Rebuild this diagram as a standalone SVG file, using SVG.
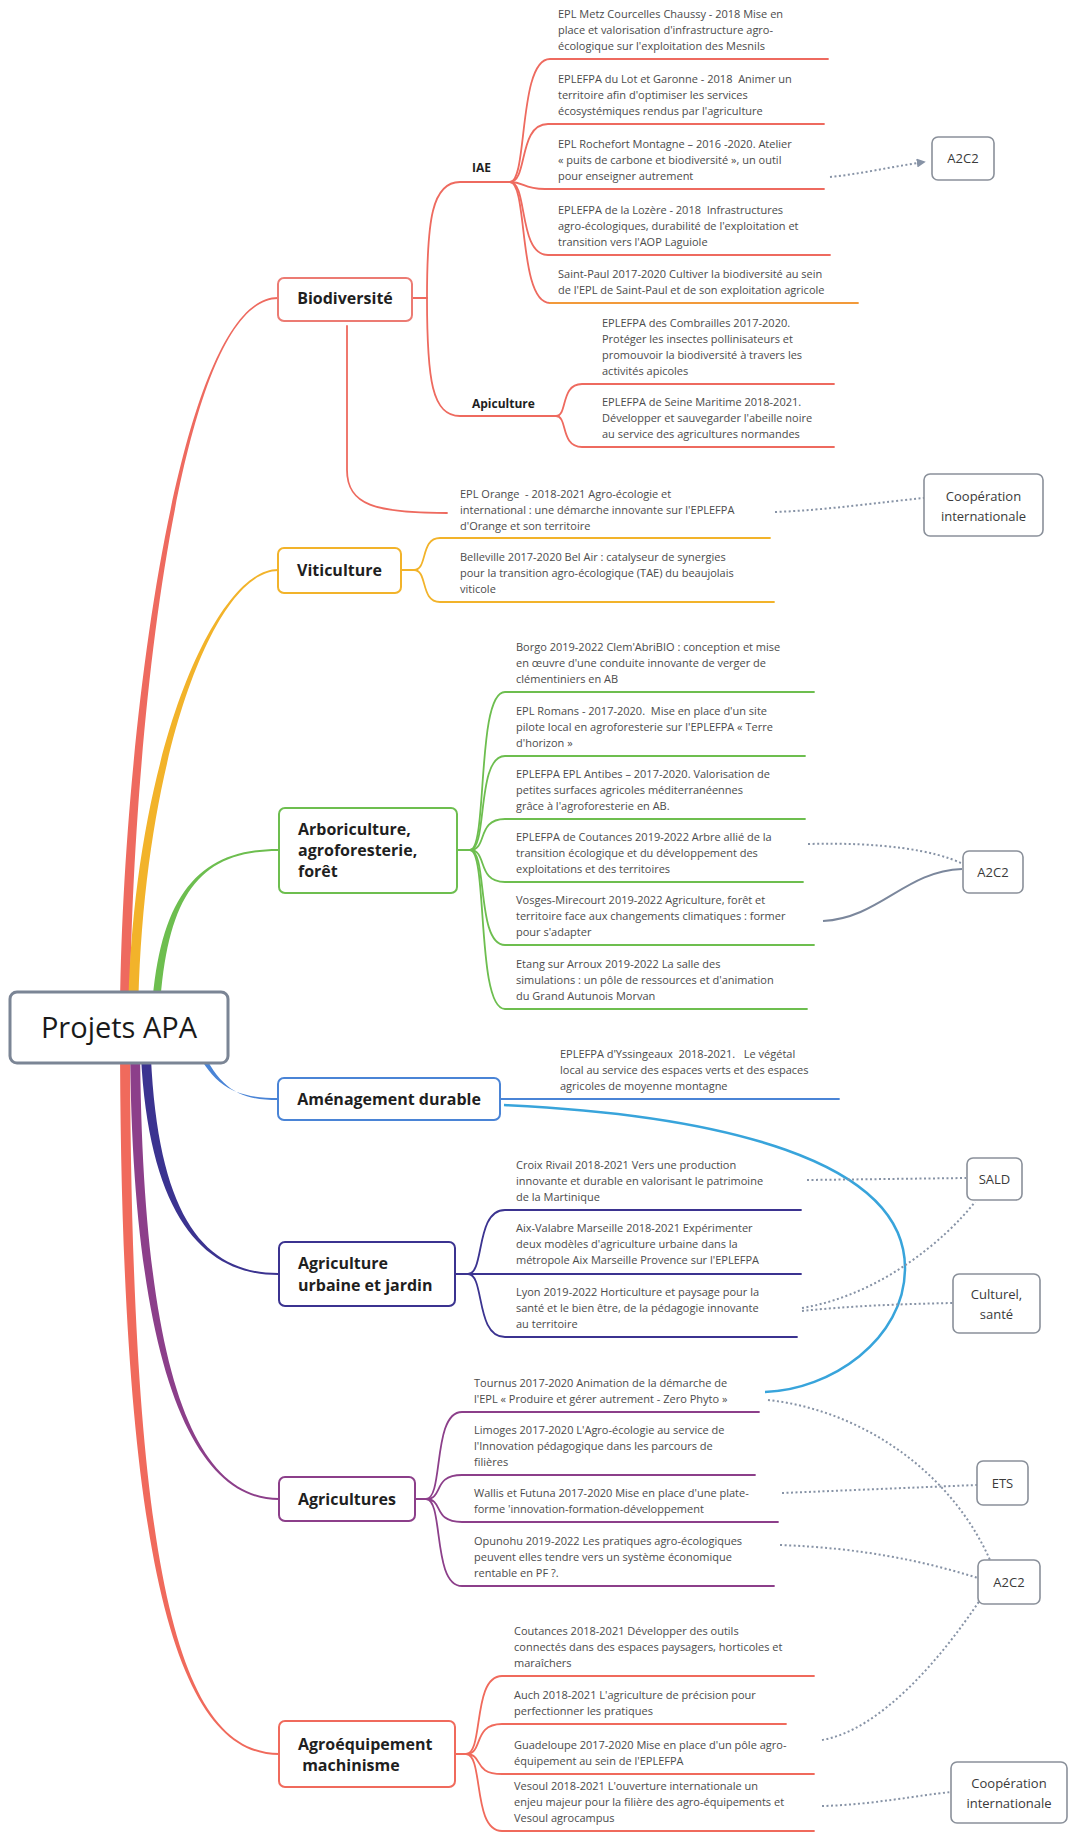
<svg xmlns="http://www.w3.org/2000/svg" width="1070" height="1834" viewBox="0 0 1070 1834">
<defs>
  <marker id="arrow" viewBox="0 0 10 10" refX="8" refY="5" markerWidth="4.5" markerHeight="4.5" orient="auto">
    <path d="M0,0 L10,5 L0,10 z" fill="#8793A6"/>
  </marker>
</defs>
<style>
  text { font-family: "Open Sans", "Noto Sans", "Liberation Sans", sans-serif; }
  .item { font-size: 11px; fill: #4b4b4b; }
  .head { font-size: 16px; font-weight: 700; fill: #1f1f1f; }
  .sub { font-size: 12px; font-weight: 700; fill: #1f1f1f; }
  .tag { font-size: 13px; fill: #3a3a3a; }
  .root { font-size: 29px; fill: #1a1a1a; }
  .box { fill: #ffffff; stroke-width: 2; }
  .tagbox { fill: #ffffff; stroke: #8a909a; stroke-width: 1.6; }
  .ln { fill: none; stroke-width: 1.8; stroke-linecap: round; }
  .bio { stroke: #EE6A5F; }
  .viti { stroke: #F2B32A; }
  .arbo { stroke: #6DBE4F; }
  .amen { stroke: #4A84D6; }
  .urb { stroke: #3B3390; }
  .agri { stroke: #8C3F8A; }
  .agro { stroke: #F06A5C; }
  .rel { fill: none; stroke: #8793A6; stroke-width: 2; stroke-dasharray: 2 2.5; }
</style>

<g id="connectors">
  <!-- tapered main branches from the root -->
  <path fill="#EE6A5F" d="M120,1027 C120,760 175,297 278,297 L278,299 C175,299 130,760 130,1027 Z"/>
  <path fill="#F2B32A" d="M128,1027 C130,760 215,569 278,569 L278,571 C215,571 140,760 138,1027 Z"/>
  <path fill="#6DBE4F" d="M151,1027 C156,900 195,849 278,849 L278,851 C195,851 164,900 159,1027 Z"/>
  <path fill="#4A84D6" d="M192,1040 C212,1090 240,1098 278,1098 L278,1100 C240,1100 218,1090 198,1040 Z"/>
  <path fill="#3B3390" d="M140,1027 C143,1210 200,1275 278,1275 L278,1273 C200,1273 153,1210 150,1027 Z"/>
  <path fill="#8C3F8A" d="M130,1027 C130,1360 190,1500 279,1500 L279,1498 C190,1498 140,1360 140,1027 Z"/>
  <path fill="#F06A5C" d="M120,1027 C120,1560 175,1755 279,1755 L279,1753 C175,1753 130,1560 130,1027 Z"/>

  <!-- Biodiversité sub-branches -->
  <path class="ln bio" d="M412,298 L427,298"/>
  <path class="ln bio" d="M427,298 C427,220 432,182 460,182 L510,182"/>
  <path class="ln bio" d="M427,298 C427,380 432,416 460,416 L556,416"/>
  <path class="ln bio" d="M347,326 L347,470 C347,505 375,513 447,513"/>
  <path class="ln bio" d="M510,182 C528,182 518,59 550,59 L828,59"/>
  <path class="ln bio" d="M510,182 C528,182 518,124 548,124 L824,124"/>
  <path class="ln bio" d="M510,182 C525,182 522,189 545,189 L824,189"/>
  <path class="ln bio" d="M510,182 C528,182 518,255 548,255 L830,255"/>
  <path class="ln bio" d="M510,182 C528,182 518,303 550,303"/>
  <path class="ln" stroke="#F29A3A" d="M550,303 L858,303"/>
  <path class="ln bio" d="M556,416 C568,416 560,384 582,384 L834,384"/>
  <path class="ln bio" d="M556,416 C568,416 560,447 582,447 L834,447"/>

  <!-- Viticulture -->
  <path class="ln viti" d="M401,570 L414,570"/>
  <path class="ln viti" d="M414,570 C428,570 420,538 440,538 L770,538"/>
  <path class="ln viti" d="M414,570 C428,570 420,602 440,602 L774,602"/>

  <!-- Arboriculture -->
  <path class="ln arbo" d="M457,850 L470,850"/>
  <path class="ln arbo" d="M470,850 C488,850 476,692 505,692 L814,692"/>
  <path class="ln arbo" d="M470,850 C488,850 476,756 505,756 L805,756"/>
  <path class="ln arbo" d="M470,850 C488,850 476,819 505,819 L805,819"/>
  <path class="ln arbo" d="M470,850 C488,850 476,882 505,882 L803,882"/>
  <path class="ln arbo" d="M470,850 C488,850 476,945 505,945 L814,945"/>
  <path class="ln arbo" d="M470,850 C488,850 476,1009 505,1009 L807,1009"/>

  <!-- Aménagement durable -->
  <path class="ln amen" d="M500,1099 L839,1099"/>

  <!-- Agriculture urbaine et jardin -->
  <path class="ln urb" d="M455,1274 L468,1274"/>
  <path class="ln urb" d="M468,1274 C485,1274 475,1210 505,1210 L801,1210"/>
  <path class="ln urb" d="M468,1274 L801,1274"/>
  <path class="ln urb" d="M468,1274 C485,1274 475,1337 505,1337 L797,1337"/>

  <!-- Agricultures -->
  <path class="ln agri" d="M415,1499 L426,1499"/>
  <path class="ln agri" d="M426,1499 C444,1499 432,1412 462,1412 L759,1412"/>
  <path class="ln agri" d="M426,1499 C444,1499 432,1475 462,1475 L755,1475"/>
  <path class="ln agri" d="M426,1499 C444,1499 432,1522 462,1522 L778,1522"/>
  <path class="ln agri" d="M426,1499 C444,1499 432,1586 462,1586 L774,1586"/>

  <!-- Agroéquipement machinisme -->
  <path class="ln agro" d="M455,1754 L466,1754"/>
  <path class="ln agro" d="M466,1754 C484,1754 472,1676 502,1676 L814,1676"/>
  <path class="ln agro" d="M466,1754 C484,1754 472,1724 502,1724 L786,1724"/>
  <path class="ln agro" d="M466,1754 C484,1754 472,1774 502,1774 L814,1774"/>
  <path class="ln agro" d="M466,1754 C484,1754 472,1831 502,1831 L814,1831"/>

  <!-- relationships -->
  <path fill="none" stroke="#38A4DB" stroke-width="2.5" d="M504,1105 C720,1115 905,1160 905,1268 C905,1340 830,1390 765,1392"/>
  <path fill="none" stroke="#7B879C" stroke-width="2" d="M823,921 C880,918 905,871 962,869"/>
  <path class="rel" marker-end="url(#arrow)" d="M830,177 C860,174 890,167 924,162"/>
  <path class="rel" d="M775,512 C830,510 880,502 924,498"/>
  <path class="rel" d="M808,844 C880,842 935,850 963,864"/>
  <path class="rel" d="M807,1180 L966,1178"/>
  <path class="rel" d="M802,1308 C880,1295 945,1240 975,1202"/>
  <path class="rel" d="M802,1311 C850,1306 900,1304 953,1303"/>
  <path class="rel" d="M768,1400 C860,1410 950,1470 990,1560"/>
  <path class="rel" d="M782,1493 L977,1485"/>
  <path class="rel" d="M780,1545 C860,1548 920,1560 978,1578"/>
  <path class="rel" d="M822,1740 C880,1730 940,1660 980,1600"/>
  <path class="rel" d="M822,1806 C870,1805 920,1795 951,1792"/>
</g>

<g id="root">
  <rect x="10" y="992" width="218" height="71" rx="7" fill="#ffffff" stroke="#7B8595" stroke-width="3"/>
  <text class="root" x="119" y="1038" text-anchor="middle">Projets APA</text>
</g>

<g id="biodiversite">
  <rect class="box" x="278" y="278" width="134" height="43" rx="6" stroke="#EC7B73"/>
  <text class="head" x="345" y="304" text-anchor="middle">Biodiversité</text>
</g>
<g id="iae"><text class="sub" x="472" y="172">IAE</text></g>
<g id="apiculture"><text class="sub" x="472" y="408">Apiculture</text></g>
<g id="metz"><text class="item"><tspan x="558" y="18">EPL Metz Courcelles Chaussy - 2018 Mise en</tspan><tspan x="558" y="34">place et valorisation d'infrastructure agro-</tspan><tspan x="558" y="50">écologique sur l'exploitation des Mesnils</tspan></text></g>
<g id="lot-garonne"><text class="item" xml:space="preserve"><tspan x="558" y="83">EPLEFPA du Lot et Garonne - 2018  Animer un</tspan><tspan x="558" y="99">territoire afin d'optimiser les services</tspan><tspan x="558" y="115">écosystémiques rendus par l'agriculture</tspan></text></g>
<g id="rochefort"><text class="item"><tspan x="558" y="148">EPL Rochefort Montagne – 2016 -2020. Atelier</tspan><tspan x="558" y="164">« puits de carbone et biodiversité », un outil</tspan><tspan x="558" y="180">pour enseigner autrement</tspan></text></g>
<g id="lozere"><text class="item" xml:space="preserve"><tspan x="558" y="214">EPLEFPA de la Lozère - 2018  Infrastructures</tspan><tspan x="558" y="230">agro-écologiques, durabilité de l'exploitation et</tspan><tspan x="558" y="246">transition vers l'AOP Laguiole</tspan></text></g>
<g id="saint-paul"><text class="item"><tspan x="558" y="278">Saint-Paul 2017-2020 Cultiver la biodiversité au sein</tspan><tspan x="558" y="294">de l'EPL de Saint-Paul et de son exploitation agricole</tspan></text></g>
<g id="combrailles"><text class="item"><tspan x="602" y="327">EPLEFPA des Combrailles 2017-2020.</tspan><tspan x="602" y="343">Protéger les insectes pollinisateurs et</tspan><tspan x="602" y="359">promouvoir la biodiversité à travers les</tspan><tspan x="602" y="375">activités apicoles</tspan></text></g>
<g id="seine-maritime"><text class="item"><tspan x="602" y="406">EPLEFPA de Seine Maritime 2018-2021.</tspan><tspan x="602" y="422">Développer et sauvegarder l'abeille noire</tspan><tspan x="602" y="438">au service des agricultures normandes</tspan></text></g>
<g id="orange"><text class="item" xml:space="preserve"><tspan x="460" y="498">EPL Orange  - 2018-2021 Agro-écologie et</tspan><tspan x="460" y="514">international : une démarche innovante sur l'EPLEFPA</tspan><tspan x="460" y="530">d'Orange et son territoire</tspan></text></g>

<g id="viticulture">
  <rect class="box" x="278" y="548" width="123" height="45" rx="6" stroke="#F2B32A"/>
  <text class="head" x="339.5" y="576" text-anchor="middle">Viticulture</text>
</g>
<g id="belleville"><text class="item"><tspan x="460" y="561">Belleville 2017-2020 Bel Air : catalyseur de synergies</tspan><tspan x="460" y="577">pour la transition agro-écologique (TAE) du beaujolais</tspan><tspan x="460" y="593">viticole</tspan></text></g>

<g id="arboriculture">
  <rect class="box" x="279" y="808" width="178" height="85" rx="6" stroke="#6DBE4F"/>
  <text class="head"><tspan x="298" y="835">Arboriculture,</tspan><tspan x="298" y="856">agroforesterie,</tspan><tspan x="298" y="877">forêt</tspan></text>
</g>
<g id="borgo"><text class="item"><tspan x="516" y="651">Borgo 2019-2022 Clem'AbriBIO : conception et mise</tspan><tspan x="516" y="667">en œuvre d'une conduite innovante de verger de</tspan><tspan x="516" y="683">clémentiniers en AB</tspan></text></g>
<g id="romans"><text class="item" xml:space="preserve"><tspan x="516" y="715">EPL Romans - 2017-2020.  Mise en place d'un site</tspan><tspan x="516" y="731">pilote local en agroforesterie sur l'EPLEFPA « Terre</tspan><tspan x="516" y="747">d'horizon »</tspan></text></g>
<g id="antibes"><text class="item"><tspan x="516" y="778">EPLEFPA EPL Antibes – 2017-2020. Valorisation de</tspan><tspan x="516" y="794">petites surfaces agricoles méditerranéennes</tspan><tspan x="516" y="810">grâce à l'agroforesterie en AB.</tspan></text></g>
<g id="coutances-arbre"><text class="item"><tspan x="516" y="841">EPLEFPA de Coutances 2019-2022 Arbre allié de la</tspan><tspan x="516" y="857">transition écologique et du développement des</tspan><tspan x="516" y="873">exploitations et des territoires</tspan></text></g>
<g id="vosges"><text class="item"><tspan x="516" y="904">Vosges-Mirecourt 2019-2022 Agriculture, forêt et</tspan><tspan x="516" y="920">territoire face aux changements climatiques : former</tspan><tspan x="516" y="936">pour s'adapter</tspan></text></g>
<g id="etang"><text class="item"><tspan x="516" y="968">Etang sur Arroux 2019-2022 La salle des</tspan><tspan x="516" y="984">simulations : un pôle de ressources et d'animation</tspan><tspan x="516" y="1000">du Grand Autunois Morvan</tspan></text></g>

<g id="amenagement">
  <rect class="box" x="278" y="1078" width="222" height="42" rx="6" stroke="#4A84D6"/>
  <text class="head" x="389" y="1105" text-anchor="middle">Aménagement durable</text>
</g>
<g id="yssingeaux"><text class="item" xml:space="preserve"><tspan x="560" y="1058">EPLEFPA d'Yssingeaux  2018-2021.   Le végétal</tspan><tspan x="560" y="1074">local au service des espaces verts et des espaces</tspan><tspan x="560" y="1090">agricoles de moyenne montagne</tspan></text></g>

<g id="agriculture-urbaine">
  <rect class="box" x="279" y="1242" width="176" height="64" rx="6" stroke="#3B3390"/>
  <text class="head"><tspan x="298" y="1269">Agriculture</tspan><tspan x="298" y="1291">urbaine et jardin</tspan></text>
</g>
<g id="croix-rivail"><text class="item"><tspan x="516" y="1169">Croix Rivail 2018-2021 Vers une production</tspan><tspan x="516" y="1185">innovante et durable en valorisant le patrimoine</tspan><tspan x="516" y="1201">de la Martinique</tspan></text></g>
<g id="aix-valabre"><text class="item"><tspan x="516" y="1232">Aix-Valabre Marseille 2018-2021 Expérimenter</tspan><tspan x="516" y="1248">deux modèles d'agriculture urbaine dans la</tspan><tspan x="516" y="1264">métropole Aix Marseille Provence sur l'EPLEFPA</tspan></text></g>
<g id="lyon"><text class="item"><tspan x="516" y="1296">Lyon 2019-2022 Horticulture et paysage pour la</tspan><tspan x="516" y="1312">santé et le bien être, de la pédagogie innovante</tspan><tspan x="516" y="1328">au territoire</tspan></text></g>

<g id="agricultures">
  <rect class="box" x="279" y="1477" width="136" height="44" rx="6" stroke="#8C3F8A"/>
  <text class="head" x="347" y="1505" text-anchor="middle">Agricultures</text>
</g>
<g id="tournus"><text class="item"><tspan x="474" y="1387">Tournus 2017-2020 Animation de la démarche de</tspan><tspan x="474" y="1403">l'EPL « Produire et gérer autrement - Zero Phyto »</tspan></text></g>
<g id="limoges"><text class="item"><tspan x="474" y="1434">Limoges 2017-2020 L'Agro-écologie au service de</tspan><tspan x="474" y="1450">l'Innovation pédagogique dans les parcours de</tspan><tspan x="474" y="1466">filières</tspan></text></g>
<g id="wallis"><text class="item"><tspan x="474" y="1497">Wallis et Futuna 2017-2020 Mise en place d'une plate-</tspan><tspan x="474" y="1513">forme 'innovation-formation-développement</tspan></text></g>
<g id="opunohu"><text class="item"><tspan x="474" y="1545">Opunohu 2019-2022 Les pratiques agro-écologiques</tspan><tspan x="474" y="1561">peuvent elles tendre vers un système économique</tspan><tspan x="474" y="1577">rentable en PF ?.</tspan></text></g>

<g id="agroequipement">
  <rect class="box" x="279" y="1721" width="176" height="66" rx="6" stroke="#F06A5C"/>
  <text class="head" xml:space="preserve"><tspan x="298" y="1750">Agroéquipement</tspan><tspan x="298" y="1771"> machinisme</tspan></text>
</g>
<g id="coutances-outils"><text class="item"><tspan x="514" y="1635">Coutances 2018-2021 Développer des outils</tspan><tspan x="514" y="1651">connectés dans des espaces paysagers, horticoles et</tspan><tspan x="514" y="1667">maraîchers</tspan></text></g>
<g id="auch"><text class="item"><tspan x="514" y="1699">Auch 2018-2021 L'agriculture de précision pour</tspan><tspan x="514" y="1715">perfectionner les pratiques</tspan></text></g>
<g id="guadeloupe"><text class="item"><tspan x="514" y="1749">Guadeloupe 2017-2020 Mise en place d'un pôle agro-</tspan><tspan x="514" y="1765">équipement au sein de l'EPLEFPA</tspan></text></g>
<g id="vesoul"><text class="item"><tspan x="514" y="1790">Vesoul 2018-2021 L'ouverture internationale un</tspan><tspan x="514" y="1806">enjeu majeur pour la filière des agro-équipements et</tspan><tspan x="514" y="1822">Vesoul agrocampus</tspan></text></g>

<!-- theme tags on the right -->
<g id="tag-a2c2-1">
  <rect class="tagbox" x="932" y="137" width="62" height="43" rx="6"/>
  <text class="tag" x="963" y="163" text-anchor="middle">A2C2</text>
</g>
<g id="tag-coop-1">
  <rect class="tagbox" x="924" y="474" width="119" height="62" rx="6"/>
  <text class="tag" text-anchor="middle"><tspan x="983.5" y="501">Coopération</tspan><tspan x="983.5" y="521">internationale</tspan></text>
</g>
<g id="tag-a2c2-2">
  <rect class="tagbox" x="963" y="851" width="60" height="42" rx="6"/>
  <text class="tag" x="993" y="877" text-anchor="middle">A2C2</text>
</g>
<g id="tag-sald">
  <rect class="tagbox" x="967" y="1158" width="55" height="42" rx="6"/>
  <text class="tag" x="994.5" y="1184" text-anchor="middle">SALD</text>
</g>
<g id="tag-culturel">
  <rect class="tagbox" x="953" y="1274" width="87" height="59" rx="6"/>
  <text class="tag" text-anchor="middle"><tspan x="996.5" y="1299">Culturel,</tspan><tspan x="996.5" y="1319">santé</tspan></text>
</g>
<g id="tag-ets">
  <rect class="tagbox" x="977" y="1461" width="51" height="44" rx="6"/>
  <text class="tag" x="1002.5" y="1488" text-anchor="middle">ETS</text>
</g>
<g id="tag-a2c2-3">
  <rect class="tagbox" x="978" y="1560" width="62" height="44" rx="6"/>
  <text class="tag" x="1009" y="1587" text-anchor="middle">A2C2</text>
</g>
<g id="tag-coop-2">
  <rect class="tagbox" x="951" y="1762" width="116" height="61" rx="6"/>
  <text class="tag" text-anchor="middle"><tspan x="1009" y="1788">Coopération</tspan><tspan x="1009" y="1808">internationale</tspan></text>
</g>
</svg>
